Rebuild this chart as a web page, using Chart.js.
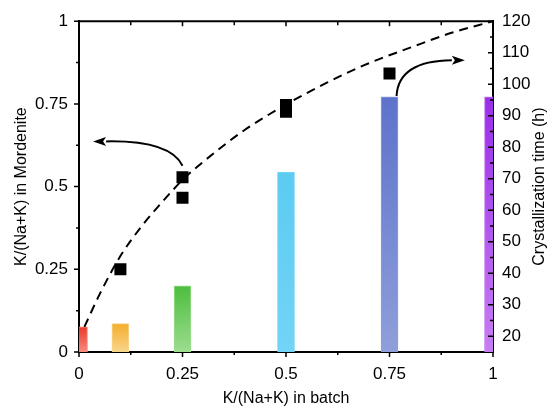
<!DOCTYPE html>
<html>
<head>
<meta charset="utf-8">
<script src="https://cdn.jsdelivr.net/npm/chart.js@4.4.1/dist/chart.umd.min.js"></script>
<style>
  html, body { margin: 0; padding: 0; background: #fff; }
  canvas { display: block; }
</style>
</head>
<body>
<canvas id="chart" width="553" height="409"></canvas>
<script>
// K/(Na+K) in batch for each synthesis, and its crystallization time (h)
const batchRatio = [0, 0.1, 0.25, 0.5, 0.75, 1];
const crystTime = [23, 24, 36, 72, 96, 96];

// measured K/(Na+K) in mordenite (black squares)
const measX = [0.1, 0.25, 0.25, 0.5, 0.5, 0.75];
const measY = [0.25, 0.528, 0.466, 0.747, 0.726, 0.842];

// dashed guide curve
const fitX = [0.013, 0.05, 0.1, 0.15, 0.2, 0.25, 0.3, 0.4, 0.5, 0.6, 0.7, 0.8, 0.9, 1.0];
const fitY = [0.076, 0.175, 0.29, 0.378, 0.452, 0.52, 0.575, 0.671, 0.748, 0.815, 0.873, 0.92, 0.965, 1.0];

// tick labels
const xTicks = [0, 0.25, 0.5, 0.75, 1];
const leftTicks = [0, 0.25, 0.5, 0.75, 1];
const rightTicks = [20, 30, 40, 50, 60, 70, 80, 90, 100, 110, 120];

// bar colours (top -> bottom of each gradient)
const barTop = ["#e8392b", "#f4ae2c", "#4cbe3e", "#5ccbf2", "#5d72cb", "#9a2ee9"];
const barBottom = ["#f98b7c", "#f8d58c", "#9ddd8f", "#72d4f6", "#8f9fda", "#c77df2"];

const FONT = "'Liberation Sans', Arial, sans-serif";
Chart.defaults.font.family = FONT;
Chart.defaults.color = "#000";

// arrows (data coords of the left axis): start, control, tip
const arrows = [
  { from: [0.25, 0.563], ctrl: [0.22, 0.64], to: [0.034, 0.636] },
  { from: [0.767, 0.774], ctrl: [0.772, 0.88], to: [0.932, 0.882] },
];

function barGradient(ctx) {
  const i = ctx.dataIndex || 0;
  const chart = ctx.chart;
  const area = chart.chartArea;
  if (!area || ctx.type !== "data") return barTop[i];
  const yTop = chart.scales.y2.getPixelForValue(crystTime[i]);
  const g = chart.ctx.createLinearGradient(0, yTop, 0, area.bottom);
  g.addColorStop(0, barTop[i]);
  g.addColorStop(1, barBottom[i]);
  return g;
}

// ticks, top frame line, right title and the two arrows
const framePlugin = {
  id: "frame",
  afterDraw(chart) {
    const { ctx, chartArea: a, scales } = chart;
    const x = scales.x, y = scales.y, y2 = scales.y2;
    ctx.save();
    ctx.strokeStyle = "#000";
    ctx.lineWidth = 2;
    ctx.beginPath();
    ctx.moveTo(a.left - 1, a.top);
    ctx.lineTo(a.right + 1, a.top);
    ctx.stroke();

    ctx.lineWidth = 1.5;
    ctx.beginPath();
    const xMinor = xTicks.slice(1).map((v, i) => (v + xTicks[i]) / 2);
    xTicks.forEach(v => {
      const px = x.getPixelForValue(v);
      ctx.moveTo(px, a.bottom); ctx.lineTo(px, a.bottom + 5);
      ctx.moveTo(px, a.top); ctx.lineTo(px, a.top + 5);
    });
    xMinor.forEach(v => {
      const px = x.getPixelForValue(v);
      ctx.moveTo(px, a.bottom); ctx.lineTo(px, a.bottom + 3);
      ctx.moveTo(px, a.top); ctx.lineTo(px, a.top + 4);
    });
    leftTicks.forEach(v => {
      const py = y.getPixelForValue(v);
      ctx.moveTo(a.left, py); ctx.lineTo(a.left - 5, py);
    });
    leftTicks.slice(1).map((v, i) => (v + leftTicks[i]) / 2).forEach(v => {
      const py = y.getPixelForValue(v);
      ctx.moveTo(a.left, py); ctx.lineTo(a.left - 3, py);
    });
    rightTicks.forEach(v => {
      const py = y2.getPixelForValue(v);
      ctx.moveTo(a.right, py); ctx.lineTo(a.right - 5, py);
      const pm = y2.getPixelForValue(v - 5);
      if (pm < a.bottom) { ctx.moveTo(a.right, pm); ctx.lineTo(a.right - 3, pm); }
    });
    ctx.stroke();

    // arrows
    ctx.lineWidth = 2;
    ctx.fillStyle = "#000";
    arrows.forEach(ar => {
      const s = [x.getPixelForValue(ar.from[0]), y.getPixelForValue(ar.from[1])];
      const c = [x.getPixelForValue(ar.ctrl[0]), y.getPixelForValue(ar.ctrl[1])];
      const t = [x.getPixelForValue(ar.to[0]), y.getPixelForValue(ar.to[1])];
      const ang = Math.atan2(t[1] - c[1], t[0] - c[0]);
      const len = 13, half = 4.5;
      const bx = t[0] - len * Math.cos(ang), by = t[1] - len * Math.sin(ang);
      ctx.beginPath();
      ctx.moveTo(s[0], s[1]);
      ctx.quadraticCurveTo(c[0], c[1], bx, by);
      ctx.stroke();
      ctx.beginPath();
      ctx.moveTo(t[0], t[1]);
      ctx.lineTo(bx - half * Math.sin(ang), by + half * Math.cos(ang));
      ctx.lineTo(bx + 3 * Math.cos(ang), by + 3 * Math.sin(ang));
      ctx.lineTo(bx + half * Math.sin(ang), by - half * Math.cos(ang));
      ctx.closePath();
      ctx.fill();
    });

    // right axis title, reading bottom to top
    ctx.translate(540, (a.top + a.bottom) / 2);
    ctx.rotate(-Math.PI / 2);
    ctx.font = "16px " + FONT;
    ctx.textAlign = "center";
    ctx.textBaseline = "middle";
    ctx.fillText("Crystallization time (h)", 0, 0);
    ctx.restore();
  },
};

const ctx = document.getElementById("chart").getContext("2d");
new Chart(ctx, {
  type: "bar",
  data: {
    datasets: [
      {
        type: "line",
        data: measX.map((v, i) => ({ x: v, y: measY[i] })),
        xAxisID: "x",
        yAxisID: "y",
        showLine: false,
        pointStyle: "rect",
        pointRadius: 8.5,
        backgroundColor: "#000",
        borderColor: "#000",
        borderWidth: 0,
        order: 0,
      },
      {
        type: "line",
        data: fitX.map((v, i) => ({ x: v, y: fitY[i] })),
        xAxisID: "x",
        yAxisID: "y",
        borderColor: "#000",
        borderWidth: 2,
        borderDash: [9, 6],
        pointRadius: 0,
        cubicInterpolationMode: "monotone",
        order: 1,
      },
      {
        type: "bar",
        data: batchRatio.map((v, i) => ({ x: v, y: crystTime[i] })),
        xAxisID: "x",
        yAxisID: "y2",
        barThickness: 17,
        backgroundColor: barGradient,
        borderColor: barBottom,
        borderWidth: 1,
        borderSkipped: "bottom",
        clip: 0,
        order: 2,
      },
    ],
  },
  options: {
    responsive: false,
    animation: false,
    layout: { padding: { top: 20, left: 0, right: 0, bottom: 0 } },
    plugins: { legend: { display: false }, tooltip: { enabled: false } },
    scales: {
      x: {
        type: "linear",
        position: "bottom",
        min: 0,
        max: 1,
        offset: false,
        afterBuildTicks: s => { s.ticks = xTicks.map(v => ({ value: v })); },
        afterFit: s => { s.height = 57; },
        grid: { display: false, drawTicks: false, offset: false },
        border: { display: true, color: "#000", width: 2 },
        ticks: { padding: 12, font: { size: 17 }, callback: v => String(v), maxRotation: 0 },
        title: { display: true, text: "K/(Na+K) in batch", font: { size: 16 }, padding: { top: 0, bottom: 1 } },
      },
      y: {
        type: "linear",
        position: "left",
        min: 0,
        max: 1,
        afterBuildTicks: s => { s.ticks = leftTicks.map(v => ({ value: v })); },
        afterFit: s => { s.width = 79; },
        grid: { display: false, drawTicks: false },
        border: { display: true, color: "#000", width: 2 },
        ticks: { padding: 11, font: { size: 17 }, callback: v => String(v) },
        title: { display: true, text: "K/(Na+K) in Mordenite", font: { size: 16 }, padding: { top: 12, bottom: 0 } },
      },
      y2: {
        type: "linear",
        position: "right",
        min: 15,
        max: 120,
        afterBuildTicks: s => { s.ticks = rightTicks.map(v => ({ value: v })); },
        afterFit: s => { s.width = 60; },
        grid: { display: false, drawTicks: false },
        border: { display: true, color: "#000", width: 2 },
        ticks: { padding: 9, font: { size: 17 }, callback: v => String(v) },
        title: { display: false },
      },
    },
  },
  plugins: [framePlugin],
});
</script>
</body>
</html>
